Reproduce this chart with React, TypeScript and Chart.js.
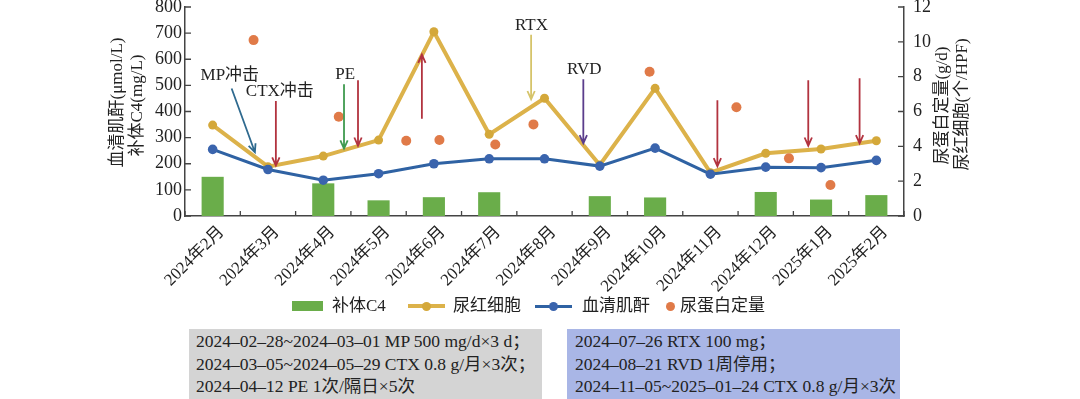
import { useEffect, useRef } from "react";
import { Chart, registerables } from "chart.js";

Chart.register(...registerables);

const categories = [
  "2024年2月", "2024年3月", "2024年4月", "2024年5月", "2024年6月", "2024年7月",
  "2024年8月", "2024年9月", "2024年10月", "2024年11月", "2024年12月", "2025年1月", "2025年2月",
];
const c4Values = [150, null, 125, 60, 72, 91, null, 76, 71, null, 92, 63, 80];
const rbcValues = [5.22, 2.83, 3.44, 4.36, 10.58, 4.69, 6.76, 2.93, 7.33, 2.49, 3.6, 3.85, 4.32];
const creatinineValues = [255, 178, 137, 162, 200, 219, 219, 191, 260, 160, 187, 185, 213];
// proteinuria measured at irregular dates (position in month-index units)
const proteinX = [0.74, 2.28, 3.5, 4.1, 5.11, 5.8, 7.9, 9.47, 10.42, 11.17];
const proteinY = [10.1, 5.7, 4.32, 4.36, 4.11, 5.26, 8.28, 6.24, 3.31, 1.78];

const leftTicks = [0, 100, 200, 300, 400, 500, 600, 700, 800];
const rightTicks = [0, 2, 4, 6, 8, 10, 12];

const leftTitle = ["血清肌酐(μmol/L)", "补体C4(mg/L)"];
const rightTitle = ["尿蛋白定量(g/d)", "尿红细胞(个/HPF)"];

const RED = "#b2333f";
// treatment arrows in data units (x: month index, y: left axis)
const arrows = [
  { x1: 0.343, y1: 488, x2: 0.764, y2: 244, color: "#2f6a8f" },
  { x1: 1.143, y1: 440, x2: 1.143, y2: 193, color: RED },
  { x1: 2.375, y1: 504, x2: 2.375, y2: 258, color: "#3f9a4f" },
  { x1: 2.628, y1: 520, x2: 2.628, y2: 269, color: RED },
  { x1: 3.783, y1: 372, x2: 3.783, y2: 618, color: RED },
  { x1: 5.758, y1: 694, x2: 5.758, y2: 447, color: "#d6c46a" },
  { x1: 6.702, y1: 523, x2: 6.702, y2: 278, color: "#5b3d8c" },
  { x1: 9.126, y1: 443, x2: 9.126, y2: 190, color: RED },
  { x1: 10.769, y1: 520, x2: 10.769, y2: 269, color: RED },
  { x1: 11.697, y1: 527, x2: 11.697, y2: 278, color: RED },
];
const arrowLabels = [
  { text: "MP冲击", x: 0.31, y: 538 },
  { text: "CTX冲击", x: 1.215, y: 478 },
  { text: "PE", x: 2.397, y: 542 },
  { text: "RTX", x: 5.764, y: 728 },
  { text: "RVD", x: 6.72, y: 561 },
];

const box1Lines = [
  "2024–02–28~2024–03–01 MP 500 mg/d×3 d；",
  "2024–03–05~2024–05–29 CTX 0.8 g/月×3次；",
  "2024–04–12 PE 1次/隔日×5次",
];
const box2Lines = [
  "2024–07–26 RTX 100 mg；",
  "2024–08–21 RVD 1周停用；",
  "2024–11–05~2025–01–24 CTX 0.8 g/月×3次",
];

const FAMILY = '"Liberation Serif", "Noto Sans CJK SC", serif';
const TEXT = "#222";
const AXIS = "#444";
const GREEN = "#6aad4a";
const YELLOW = "#dcb24a";
const YELLOW_PT = "#d4a83a";
const BLUE = "#2f62a3";
const BLUE_PT = "#3a64ad";
const ORANGE = "#e07a48";

const overlayPlugin = {
  id: "overlay",
  afterDatasetsDraw(chart: any) {
    const { ctx } = chart;
    const sx = chart.scales.x2;
    const sy = chart.scales.y;
    ctx.save();
    for (const a of arrows) {
      const px1 = sx.getPixelForValue(a.x1);
      const py1 = sy.getPixelForValue(a.y1);
      const px2 = sx.getPixelForValue(a.x2);
      const py2 = sy.getPixelForValue(a.y2);
      ctx.strokeStyle = a.color;
      ctx.lineWidth = 1.8;
      ctx.beginPath();
      ctx.moveTo(px1, py1);
      ctx.lineTo(px2, py2);
      const ang = Math.atan2(py2 - py1, px2 - px1);
      const len = 9;
      const spread = 0.42;
      ctx.moveTo(px2 - len * Math.cos(ang - spread), py2 - len * Math.sin(ang - spread));
      ctx.lineTo(px2, py2);
      ctx.lineTo(px2 - len * Math.cos(ang + spread), py2 - len * Math.sin(ang + spread));
      ctx.stroke();
    }
    ctx.fillStyle = TEXT;
    ctx.font = `17px ${FAMILY}`;
    ctx.textAlign = "center";
    ctx.textBaseline = "middle";
    for (const l of arrowLabels) {
      ctx.fillText(l.text, sx.getPixelForValue(l.x), sy.getPixelForValue(l.y));
    }
    ctx.restore();
  },
  afterDraw(chart: any) {
    const { ctx, chartArea } = chart;
    const sx = chart.scales.x;
    const sy = chart.scales.y;
    const sy1 = chart.scales.y1;
    ctx.save();
    ctx.strokeStyle = AXIS;
    ctx.lineWidth = 1.3;
    ctx.beginPath();
    for (let i = 0; i <= categories.length; i++) {
      const px = sx.getPixelForValue(i - 0.5);
      ctx.moveTo(px, chartArea.bottom);
      ctx.lineTo(px, chartArea.bottom - 5);
    }
    for (const v of leftTicks) {
      const py = sy.getPixelForValue(v);
      ctx.moveTo(chartArea.left, py);
      ctx.lineTo(chartArea.left + 6, py);
    }
    for (const v of rightTicks) {
      const py = sy1.getPixelForValue(v);
      ctx.moveTo(chartArea.right, py);
      ctx.lineTo(chartArea.right - 6, py);
    }
    ctx.stroke();

    ctx.fillStyle = TEXT;
    ctx.font = `17px ${FAMILY}`;
    ctx.textAlign = "center";
    ctx.textBaseline = "middle";
    const cy = (chartArea.top + chartArea.bottom) / 2;
    const drawRot = (t: string, x: number, y: number) => {
      ctx.save();
      ctx.translate(x, y);
      ctx.rotate(-Math.PI / 2);
      ctx.fillText(t, 0, 0);
      ctx.restore();
    };
    drawRot(leftTitle[0], chartArea.left - 67, cy - 9);
    drawRot(leftTitle[1], chartArea.left - 47, cy - 6);
    drawRot(rightTitle[0], chartArea.right + 39, cy - 6);
    drawRot(rightTitle[1], chartArea.right + 59, cy - 7);
    ctx.restore();
  },
};

function legendLine(color: string, pt: string, w: number) {
  return (
    <div style={{ position: "relative", width: 37, height: 12 }}>
      <div style={{ position: "absolute", left: 0, top: 6 - w / 2, width: 37, height: w, background: color }} />
      <div style={{ position: "absolute", left: 14, top: 1.5, width: 9, height: 9, borderRadius: "50%", background: pt }} />
    </div>
  );
}

export default function App() {
  const ref = useRef<HTMLCanvasElement>(null);
  useEffect(() => {
    const xFont = { family: FAMILY, size: 17 };
    const yFont = { family: FAMILY, size: 18 };
    const chart = new Chart(ref.current as HTMLCanvasElement, {
      type: "bar",
      data: {
        labels: categories,
        datasets: [
          {
            type: "bar",
            label: "补体C4",
            data: c4Values as any,
            backgroundColor: GREEN,
            barPercentage: 0.5,
            categoryPercentage: 0.8,
            grouped: false,
            xAxisID: "x",
            yAxisID: "y",
            order: 4,
          },
          {
            type: "line",
            label: "尿红细胞",
            data: rbcValues,
            borderColor: YELLOW,
            backgroundColor: YELLOW_PT,
            borderWidth: 4,
            pointRadius: 4.5,
            pointBorderWidth: 0,
            pointBackgroundColor: YELLOW_PT,
            tension: 0,
            xAxisID: "x",
            yAxisID: "y1",
            order: 3,
          },
          {
            type: "line",
            label: "血清肌酐",
            data: creatinineValues,
            borderColor: BLUE,
            backgroundColor: BLUE_PT,
            borderWidth: 3,
            pointRadius: 4.8,
            pointBorderWidth: 0,
            pointBackgroundColor: BLUE_PT,
            tension: 0,
            xAxisID: "x",
            yAxisID: "y",
            order: 2,
          },
          {
            type: "scatter",
            label: "尿蛋白定量",
            data: proteinX.map((x, i) => ({ x, y: proteinY[i] })),
            backgroundColor: ORANGE,
            borderWidth: 0,
            pointRadius: 5,
            showLine: false,
            xAxisID: "x2",
            yAxisID: "y1",
            order: 1,
          },
        ] as any,
      },
      options: {
        responsive: false,
        animation: false,
        devicePixelRatio: 1,
        layout: { padding: { top: 7, left: 0, right: 0, bottom: 0 } },
        plugins: { legend: { display: false }, tooltip: { enabled: false } },
        scales: {
          x: {
            type: "category",
            offset: true,
            grid: { display: false, drawTicks: false },
            border: { display: true, color: AXIS, width: 1.5 },
            ticks: {
              autoSkip: false,
              maxRotation: 45,
              minRotation: 45,
              padding: 6,
              labelOffset: 9,
              font: xFont,
              color: TEXT,
            },
            afterFit: (s: any) => {
              s.height = 183;
            },
          },
          x2: { type: "linear", min: -0.5, max: 12.5, display: false, offset: false },
          y: {
            position: "left",
            min: 0,
            max: 800,
            grid: { display: false, drawTicks: false },
            border: { display: true, color: AXIS, width: 1.5 },
            ticks: { padding: 3, font: yFont, color: TEXT },
            afterBuildTicks: (s: any) => {
              s.ticks = leftTicks.map((v) => ({ value: v }));
            },
            afterFit: (s: any) => {
              s.width = 185;
              s.paddingTop = 0;
              s.paddingBottom = 0;
            },
          },
          y1: {
            position: "right",
            min: 0,
            max: 12,
            grid: { display: false, drawTicks: false },
            border: { display: true, color: AXIS, width: 1.5 },
            ticks: { padding: 9, font: yFont, color: TEXT },
            afterBuildTicks: (s: any) => {
              s.ticks = rightTicks.map((v) => ({ value: v }));
            },
            afterFit: (s: any) => {
              s.width = 176;
              s.paddingTop = 0;
              s.paddingBottom = 0;
            },
          },
        } as any,
      },
      plugins: [overlayPlugin],
    });
    return () => chart.destroy();
  }, []);

  const textStyle: any = {
    position: "absolute",
    top: 297,
    height: 18,
    lineHeight: "18px",
    fontFamily: FAMILY,
    fontSize: 17,
    color: TEXT,
    whiteSpace: "nowrap",
  };
  const boxText: any = {
    fontFamily: FAMILY,
    fontSize: 17.5,
    color: TEXT,
    lineHeight: "22.5px",
    whiteSpace: "nowrap",
  };

  return (
    <div style={{ position: "absolute", left: 0, top: 0, width: 1080, height: 399, background: "#fff", overflow: "hidden" }}>
      <canvas ref={ref} width={1080} height={399} style={{ position: "absolute", left: 0, top: 0, width: 1080, height: 399 }} />
      <div style={{ position: "absolute", left: 292, top: 301, width: 31, height: 10, background: GREEN }} />
      <div style={{ ...textStyle, left: 332 }}>补体C4</div>
      <div style={{ position: "absolute", left: 408, top: 300 }}>{legendLine(YELLOW, YELLOW_PT, 3.5)}</div>
      <div style={{ ...textStyle, left: 453 }}>尿红细胞</div>
      <div style={{ position: "absolute", left: 535, top: 300 }}>{legendLine(BLUE, BLUE_PT, 3)}</div>
      <div style={{ ...textStyle, left: 582 }}>血清肌酐</div>
      <div style={{ position: "absolute", left: 666, top: 302, width: 9, height: 9, borderRadius: "50%", background: ORANGE }} />
      <div style={{ ...textStyle, left: 680 }}>尿蛋白定量</div>

      <div style={{ position: "absolute", left: 189, top: 329, width: 353, height: 70, background: "#d4d4d4", boxSizing: "border-box", paddingLeft: 7, paddingTop: 1 }}>
        {box1Lines.map((t) => (
          <div key={t} style={boxText}>{t}</div>
        ))}
      </div>
      <div style={{ position: "absolute", left: 567, top: 329, width: 333, height: 70, background: "#a9b6e6", boxSizing: "border-box", paddingLeft: 8, paddingTop: 1 }}>
        {box2Lines.map((t) => (
          <div key={t} style={boxText}>{t}</div>
        ))}
      </div>
    </div>
  );
}
